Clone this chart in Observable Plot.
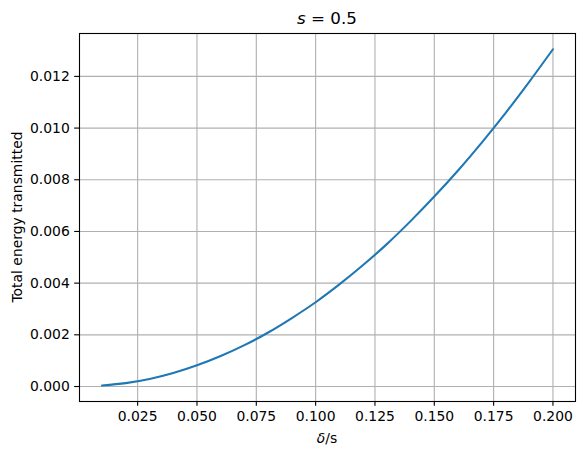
<!DOCTYPE html>
<html>
<head>
<meta charset="utf-8">
<script src="https://cdn.jsdelivr.net/npm/d3@7"></script>
<script src="https://cdn.jsdelivr.net/npm/@observablehq/plot@0.6"></script>
<style>
  html, body { margin: 0; padding: 0; background: #fff; }
  #chart svg { display: block; }
</style>
</head>
<body>
<div id="chart"></div>
<script>
const deltaOverS = [0.01, 0.02, 0.03, 0.04, 0.05, 0.06, 0.07, 0.08, 0.09, 0.10,
                    0.11, 0.12, 0.13, 0.14, 0.15, 0.16, 0.17, 0.18, 0.19, 0.20];
const energy = [0.00004, 0.00013, 0.00029, 0.00052, 0.00082, 0.00118, 0.00160, 0.00209, 0.00265, 0.00326,
                0.00395, 0.00470, 0.00551, 0.00640, 0.00735, 0.00836, 0.00944, 0.01058, 0.01179, 0.01305];
const xTicks = [0.025, 0.050, 0.075, 0.100, 0.125, 0.150, 0.175, 0.200];
const yTicks = [0.000, 0.002, 0.004, 0.006, 0.008, 0.010, 0.012];

const data = deltaOverS.map((d, i) => ({x: d, y: energy[i]}));

const fontPx = 13.9;
const svg = Plot.plot({
  width: 584,
  height: 456,
  marginLeft: 79,
  marginRight: 9,
  marginTop: 33,
  marginBottom: 55,
  style: {fontFamily: "DejaVu Sans", fontSize: fontPx + "px", color: "black", background: "white"},
  x: {domain: [0.0005, 0.2095], label: null},
  y: {domain: [-0.00058, 0.01366], label: null},
  marks: [
    Plot.gridX(xTicks, {stroke: "#b0b0b0", strokeOpacity: 1, strokeWidth: 1.1}),
    Plot.gridY(yTicks, {stroke: "#b0b0b0", strokeOpacity: 1, strokeWidth: 1.1}),
    Plot.line(data, {x: "x", y: "y", stroke: "#1f77b4", strokeWidth: 2.08, curve: "monotone-x"}),
    Plot.frame({stroke: "black", strokeWidth: 1.1}),
    Plot.axisX(xTicks, {tickSize: 4.86, tickPadding: 4.86, tickFormat: d3.format(".3f"), label: null, fontSize: fontPx, stroke: "black", strokeWidth: 1.1}),
    Plot.axisY(yTicks, {tickSize: 4.86, tickPadding: 4.86, tickFormat: d3.format(".3f"), label: null, fontSize: fontPx, stroke: "black", strokeWidth: 1.1})
  ]
});

const s = d3.select(svg);
const cx = (79 + 575) / 2;

// Title: s = 0.5 (italic s)
const title = s.append("text")
  .attr("x", cx).attr("y", 24)
  .attr("text-anchor", "middle")
  .attr("font-family", "DejaVu Sans")
  .attr("font-size", "16.7px")
  .attr("fill", "black");
title.append("tspan").attr("font-style", "italic").text("s");
title.append("tspan").text(" = 0.5");

// x label: δ/s (italic δ)
const xl = s.append("text")
  .attr("x", cx).attr("y", 443)
  .attr("text-anchor", "middle")
  .attr("font-family", "DejaVu Sans")
  .attr("font-size", fontPx + "px")
  .attr("fill", "black");
xl.append("tspan").attr("font-style", "italic").text("δ");
xl.append("tspan").text("/s");

// y label
s.append("text")
  .attr("transform", `translate(22, ${(33 + 401) / 2}) rotate(-90)`)
  .attr("text-anchor", "middle")
  .attr("font-family", "DejaVu Sans")
  .attr("font-size", fontPx + "px")
  .attr("fill", "black")
  .text("Total energy transmitted");

document.getElementById("chart").appendChild(svg);
</script>
</body>
</html>
